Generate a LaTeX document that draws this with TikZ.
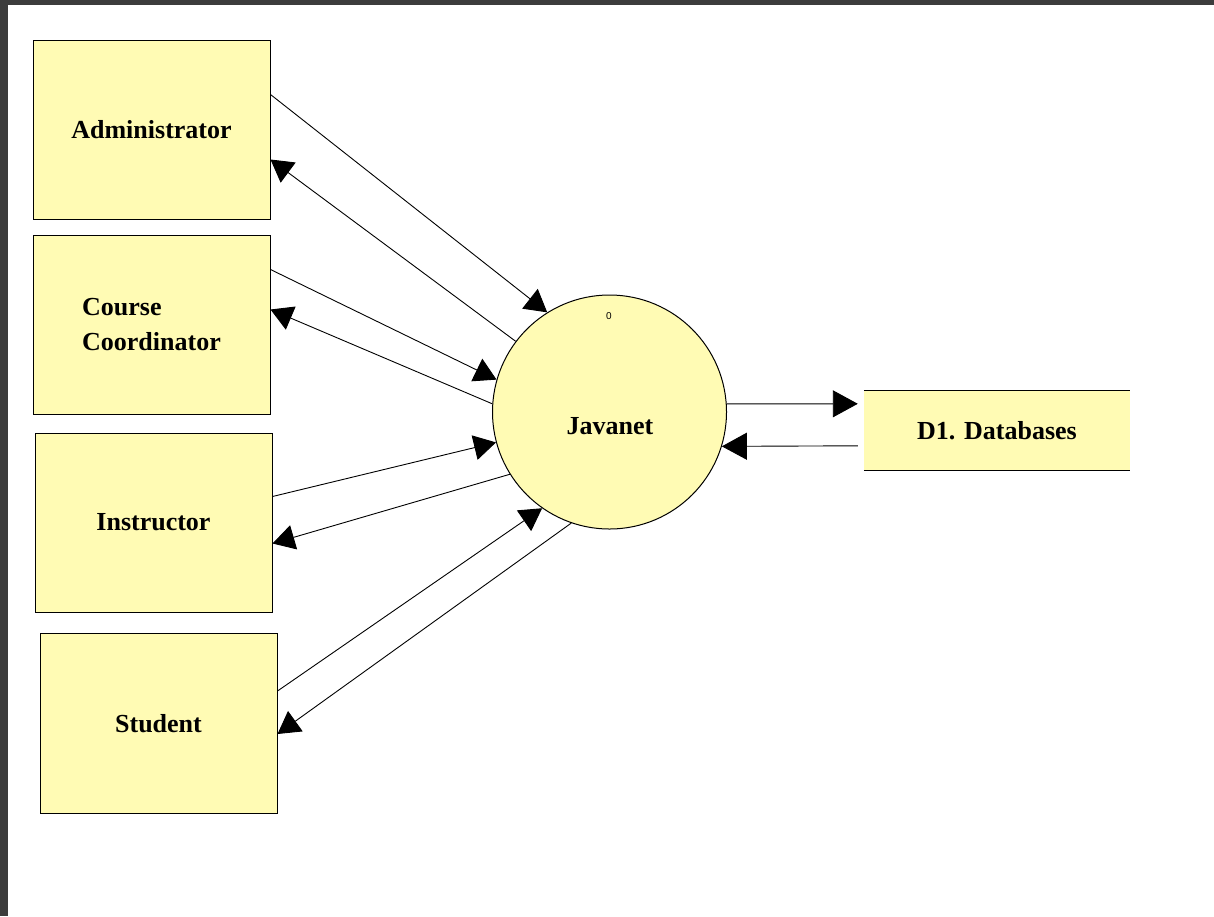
\documentclass[tikz,border=0pt]{standalone}
\usepackage{fontspec}
\setmainfont{Liberation Serif}
\newfontfamily\smallsans{Liberation Sans}
\usetikzlibrary{arrows.meta}
\definecolor{boxfill}{RGB}{255,251,180}
\definecolor{frame}{RGB}{60,60,60}
\tikzset{
  entity/.style={draw=black, line width=1pt, fill=boxfill, minimum width=237pt, minimum height=179pt, inner sep=0pt, font=\fontsize{26}{35}\selectfont\bfseries},
  flow/.style={draw=black, line width=0.9pt, -{Triangle[length=22pt,width=25pt]}},
  dbflow/.style={draw=black, line width=0.9pt, -{Triangle[length=25pt,width=27pt]}},
}
\begin{document}
\begin{tikzpicture}[x=1pt,y=-1pt]
\useasboundingbox (0,0) rectangle (1214,916);
\fill[white] (0,0) rectangle (1214,916);
\fill[frame] (0,0) rectangle (1214,5);
\fill[frame] (0,0) rectangle (8,916);

\node[entity] (admin) at (151.5,129.5) {Administrator};
\node[entity, align=left] (cc) at (151.5,324.5) {Course\\Coordinator};
\node[entity] (instr) at (153.5,522.5) {Instructor};
\node[entity, minimum height=180pt] (stud) at (158.5,723.5) {Student};

\node[draw=black, line width=1pt, fill=boxfill, circle, minimum size=234pt, inner sep=0pt] (jav) at (609.5,412) {};
\node[font=\fontsize{26}{30}\selectfont\bfseries] (javtext) at (610,426) {Javanet};
\node[font=\smallsans\fontsize{10}{11}\selectfont] (javnum) at (609,316) {0};

\node[fill=boxfill, minimum width=266pt, minimum height=79pt, inner sep=0pt, font=\fontsize{26}{30}\selectfont\bfseries] (db) at (997,430.5) {D1. Databases};
\draw[line width=1.2pt] (db.north west) -- (db.north east);
\draw[line width=1.2pt] (db.south west) -- (db.south east);

% Administrator
\draw[flow] ([yshift=-55pt]admin.north east) -- (jav.122.4);
\draw[flow] (jav.143.6) -- ([yshift=-120pt]admin.north east);
% Course Coordinator
\draw[flow] ([yshift=-35pt]cc.north east) -- (jav.164);
\draw[flow] (jav.176.6) -- ([yshift=-75pt]cc.north east);
% Instructor
\draw[flow] ([yshift=-64pt]instr.north east) -- (jav.195.2);
\draw[flow] (jav.212) -- ([yshift=-111pt]instr.north east);
% Student
\draw[flow] ([yshift=-58pt]stud.north east) -- (jav.235.5);
\draw[flow] (jav.251) -- ([yshift=-101pt]stud.north east);
% Databases
\draw[dbflow] (jav.4) -- ([xshift=-6pt,yshift=-13pt]db.north west);
\draw[dbflow] ([xshift=-6pt,yshift=-55pt]db.north west) -- (jav.343);
\end{tikzpicture}
\end{document}
